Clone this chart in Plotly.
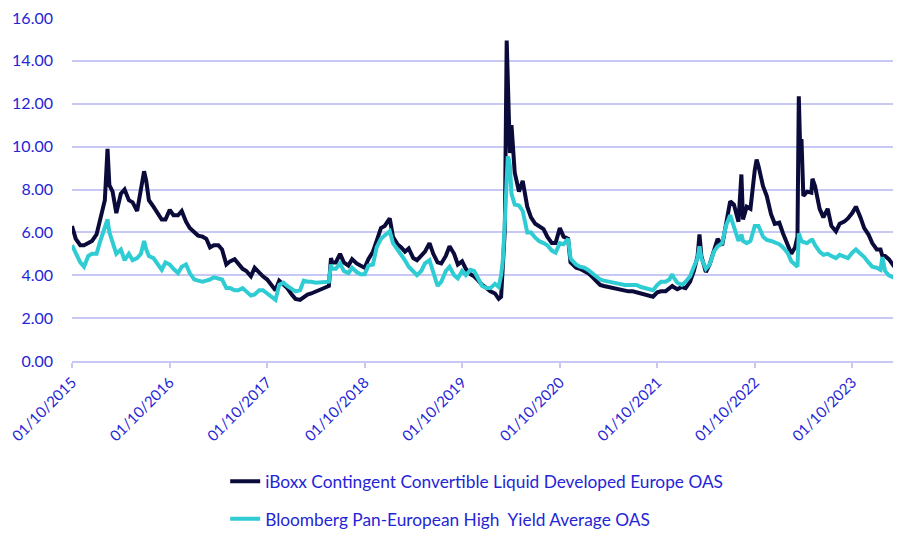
import plotly.graph_objects as go

dates = [
"2015-10-01","2015-10-15","2015-11-01","2015-11-15","2015-12-01","2015-12-15",
"2016-01-01","2016-01-15","2016-02-01","2016-02-11","2016-02-18","2016-03-01","2016-03-15",
"2016-04-01","2016-04-15","2016-05-01","2016-05-15","2016-06-01","2016-06-15","2016-06-27",
"2016-07-05","2016-07-15","2016-08-01","2016-08-15","2016-09-01","2016-09-15","2016-10-01",
"2016-10-15","2016-11-01","2016-11-15","2016-12-01","2016-12-15",
"2017-01-01","2017-01-15","2017-02-01","2017-02-15","2017-03-01","2017-03-15","2017-04-01",
"2017-04-15","2017-05-01","2017-05-15","2017-06-01","2017-06-15","2017-07-01","2017-07-15",
"2017-08-01","2017-08-15","2017-09-01","2017-09-15","2017-10-01","2017-10-15","2017-11-01",
"2017-11-15","2017-12-01","2017-12-15",
"2018-01-01","2018-01-15","2018-02-01","2018-02-15","2018-03-01","2018-03-15","2018-04-01",
"2018-05-20","2018-05-28","2018-06-01","2018-06-15","2018-07-01","2018-07-15","2018-08-01",
"2018-08-15","2018-09-01","2018-09-15","2018-10-01","2018-10-15","2018-11-01","2018-11-15",
"2018-12-01","2018-12-15",
"2019-01-03","2019-01-15","2019-02-01","2019-02-15","2019-03-01","2019-03-15","2019-04-01",
"2019-04-15","2019-05-01","2019-05-15","2019-06-01","2019-06-15","2019-07-01","2019-07-15",
"2019-08-01","2019-08-15","2019-09-01","2019-09-15","2019-10-01","2019-10-15","2019-11-01",
"2019-11-15","2019-12-01","2019-12-15",
"2020-01-01","2020-01-15","2020-02-01","2020-02-15","2020-02-24","2020-03-01","2020-03-09",
"2020-03-16","2020-03-20","2020-03-24","2020-03-28","2020-04-03","2020-04-15","2020-05-01",
"2020-05-15","2020-06-01","2020-06-15","2020-07-01","2020-07-15","2020-08-01","2020-08-15",
"2020-09-01","2020-09-15","2020-10-01","2020-10-15","2020-11-01","2020-11-10","2020-11-15",
"2020-12-01","2020-12-15",
"2021-01-01","2021-01-15","2021-02-01","2021-02-15","2021-03-01","2021-03-15","2021-04-01",
"2021-04-15","2021-05-01","2021-05-15","2021-06-01","2021-06-15","2021-07-01","2021-07-15",
"2021-08-01","2021-08-15","2021-09-01","2021-09-15","2021-10-01","2021-10-15","2021-11-01",
"2021-11-15","2021-11-26","2021-12-01","2021-12-15",
"2022-01-01","2022-01-15","2022-02-01","2022-02-15","2022-03-01","2022-03-08","2022-03-15",
"2022-04-01","2022-04-15","2022-05-01","2022-05-15","2022-06-01","2022-06-15","2022-07-01",
"2022-07-15","2022-08-01","2022-08-12","2022-08-18","2022-09-01","2022-09-15","2022-10-01",
"2022-10-08","2022-10-15","2022-11-01","2022-11-15","2022-12-01","2022-12-15",
"2023-01-01","2023-01-15","2023-02-01","2023-02-15","2023-03-01","2023-03-10","2023-03-15",
"2023-03-20","2023-03-25","2023-04-01","2023-04-15","2023-05-01","2023-05-05","2023-05-15",
"2023-06-01","2023-06-15","2023-07-01","2023-07-15","2023-08-01","2023-08-15","2023-09-01",
"2023-09-15","2023-10-01","2023-10-15","2023-11-01","2023-11-15","2023-12-01","2023-12-15",
"2024-01-01","2024-01-15","2024-01-22","2024-02-01","2024-02-15","2024-03-01","2024-03-15",
"2024-03-28",
]

iboxx_oas = [
6.3,5.7,5.4,5.4,5.5,5.6,
5.9,6.6,7.5,9.9,8.2,7.9,6.9,
7.8,8.0,7.5,7.4,7.0,7.9,8.85,
8.4,7.5,7.2,6.9,6.6,6.6,7.05,
6.8,6.8,7.0,6.5,6.2,
6.0,5.85,5.8,5.7,5.3,5.4,5.4,
5.2,4.5,4.65,4.75,4.55,4.3,4.2,
3.95,4.35,4.1,3.95,3.8,3.6,3.3,
3.75,3.55,3.4,
3.1,2.9,2.85,3.0,3.1,3.15,3.25,
3.5,4.8,4.6,4.6,5.0,4.6,4.45,
4.75,4.55,4.45,4.35,4.75,5.1,5.6,
6.2,6.3,
6.65,5.8,5.45,5.3,5.1,5.25,4.8,
4.7,4.9,5.1,5.5,5.0,4.6,4.55,
4.9,5.35,5.0,4.5,4.65,4.3,4.05,
3.95,3.75,3.55,
3.4,3.25,3.15,2.9,3.0,4.1,6.1,
14.95,13.5,12.4,9.7,11.0,8.8,7.9,
8.4,7.2,6.7,6.4,6.3,6.15,5.8,
5.5,5.5,6.2,5.8,5.7,4.6,4.55,
4.35,4.3,
4.2,4.1,3.9,3.7,3.55,3.5,3.45,
3.4,3.35,3.3,3.25,3.25,3.25,3.2,
3.15,3.1,3.05,3.0,3.2,3.25,3.25,
3.4,3.5,3.45,3.35,
3.45,3.4,3.7,4.2,4.9,5.9,4.9,
4.15,4.5,5.2,5.7,5.4,6.45,7.45,
7.3,6.5,8.7,6.6,7.2,7.1,8.9,
9.4,9.1,8.15,7.7,6.85,6.4,
6.45,5.95,5.4,5.0,5.3,5.8,12.35,
10.0,10.35,7.7,7.9,7.85,8.5,8.15,
7.1,6.7,7.1,6.3,6.05,6.4,6.5,
6.65,6.9,7.2,6.7,6.2,5.9,5.5,
5.2,5.2,4.9,4.9,4.75,4.5,4.2,
4.05,
]

bloomberg_oas = [
5.4,5.0,4.6,4.4,4.9,5.0,
5.0,5.6,6.2,6.6,6.0,5.5,5.0,
5.2,4.7,5.0,4.7,4.8,5.0,5.6,
5.2,4.9,4.8,4.55,4.25,4.6,4.5,
4.3,4.1,4.4,4.5,4.1,
3.8,3.75,3.7,3.75,3.8,3.9,3.85,
3.8,3.4,3.4,3.3,3.3,3.4,3.25,
3.05,3.1,3.3,3.3,3.15,3.05,2.85,
3.55,3.65,3.5,
3.35,3.25,3.3,3.75,3.7,3.7,3.65,
3.7,4.5,4.3,4.3,4.55,4.2,4.1,
4.35,4.15,4.05,4.05,4.45,4.5,5.3,
5.7,5.85,
6.05,5.5,5.2,5.0,4.7,4.4,4.2,
4.0,4.2,4.55,4.7,4.2,3.5,3.7,
4.2,4.4,4.0,3.85,4.2,4.0,4.25,
4.2,3.8,3.5,
3.4,3.4,3.6,3.45,4.0,4.6,6.45,
9.0,9.55,9.4,9.1,7.8,7.3,7.25,
7.0,6.0,6.0,5.75,5.6,5.5,5.4,
5.15,5.05,5.5,5.45,5.7,4.8,4.7,
4.5,4.4,
4.35,4.25,4.1,3.95,3.8,3.75,3.7,
3.65,3.65,3.6,3.55,3.55,3.55,3.55,
3.45,3.4,3.35,3.3,3.55,3.7,3.7,
3.8,4.05,3.9,3.65,
3.55,3.7,3.95,4.4,4.8,5.35,4.8,
4.3,4.5,5.1,5.35,5.5,6.3,6.8,
6.3,5.6,5.9,5.6,5.5,5.6,6.3,
6.3,6.3,5.8,5.65,5.6,5.55,
5.45,5.3,5.05,4.65,4.5,4.4,5.95,
5.75,5.6,5.55,5.5,5.65,5.65,5.4,
5.1,4.95,5.0,4.9,4.8,4.95,4.85,
4.8,5.05,5.2,5.0,4.85,4.6,4.4,
4.35,4.25,4.85,4.2,4.0,3.9,3.8,
3.75,
]

y_ticks = [0, 2, 4, 6, 8, 10, 12, 14, 16]
series_names = [
    "iBoxx Contingent Convertible Liquid Developed Europe OAS",
    "Bloomberg Pan-European High  Yield Average OAS",
]

BLUE = "#2525d6"
GRID = "#c8c8f4"

fig = go.Figure()
fig.add_trace(go.Scatter(x=dates, y=iboxx_oas, mode="lines", name=series_names[0],
                         line=dict(color="#0b0b3b", width=4), legendgroup="a"))
fig.add_trace(go.Scatter(x=dates, y=bloomberg_oas, mode="lines", name=series_names[1],
                         line=dict(color="#2fccd4", width=4), legendgroup="b"))

# page body has an 8px margin, so the figure is sized to the remaining viewport
fig.update_layout(
    width=893, height=526,
    margin=dict(l=64, r=1, t=10, b=173),
    paper_bgcolor="white", plot_bgcolor="white",
    font=dict(family="Lato", size=16, color=BLUE),
    showlegend=True,
    legend=dict(x=0.185, xanchor="left", xref="paper",
                y=0.134, yanchor="top", yref="container",
                font=dict(family="Lato", size=17.3, color=BLUE),
                traceorder="grouped", tracegroupgap=12,
                bgcolor="rgba(0,0,0,0)"),
)
fig.update_xaxes(
    type="date", range=["2015-10-01", "2024-03-28"], automargin=False,
    tick0="2015-10-01", dtick="M12", tickformat="%d/%m/%Y",
    tickangle=-45, showgrid=False, ticklabeloverflow="allow",
    showline=True, linecolor=GRID, linewidth=1.5,
    ticks="outside", ticklen=5, tickcolor=GRID, tickwidth=1.5,
    tickfont=dict(family="Lato", size=15, color=BLUE),
)
fig.update_yaxes(
    range=[0, 16], tickvals=y_ticks, tickformat=".2f", automargin=False,
    showgrid=True, gridcolor=GRID, gridwidth=1.5, zeroline=False,
    showline=False, ticklabelstandoff=18, ticklabeloverflow="allow",
    tickfont=dict(family="Lato", size=16, color=BLUE),
)

fig.write_html("out.html")
